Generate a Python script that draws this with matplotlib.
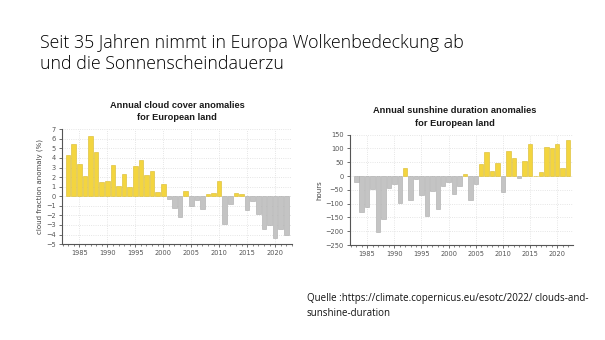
import numpy as np
import matplotlib.pyplot as plt
from matplotlib.ticker import MultipleLocator

years = list(range(1983, 2023))

cloud_anom = [4.3, 5.5, 3.4, 2.15, 6.3, 4.6, 1.45, 1.6, 3.3, 1.07,
              2.3, 0.97, 3.15, 3.8, 2.2, 2.65, 0.48, 1.3, -0.28, -1.18,
              -2.2, 0.52, -1.0, -0.42, -1.3, 0.28, 0.35, 1.6, -2.85, -0.8,
              0.35, 0.2, -1.45, -0.5, -1.87, -3.4, -3.0, -4.35, -3.46, -4.05]

sun_anom = [-20, -130, -112, -48, -203, -156, -43, -28, -98, 29,
            -85, -10, -67, -146, -54, -121, -35, -23, -65, -36,
            6, -85, -28, 44, 86, 18, 46, -57, 90, 64,
            -7, 53, 116, 1, 16, 104, 100, 117, 31, 131]

yellow = "#f3d53f"
yellow_edge = "#d9b92a"
grey = "#c4c4c4"
grey_edge = "#a8a8a8"

fig = plt.figure(figsize=(6.05, 3.4), dpi=100)
fig.patch.set_facecolor("white")


def style_axes(ax, ylabel):
    for s in ["top", "right"]:
        ax.spines[s].set_visible(False)
    for s in ["left", "bottom"]:
        ax.spines[s].set_color("#555555")
        ax.spines[s].set_linewidth(0.8)
    ax.xaxis.set_major_locator(MultipleLocator(5))
    ax.xaxis.set_minor_locator(MultipleLocator(1))
    ax.tick_params(axis="both", which="major", labelsize=4.8, colors="#555555",
                   length=2.5, width=0.6, pad=2)
    ax.tick_params(axis="x", which="minor", length=1.5, width=0.5, colors="#555555")
    ax.grid(True, which="major", color="#dddddd", linestyle=":", linewidth=0.6)
    ax.set_axisbelow(True)
    ax.set_ylabel(ylabel, fontsize=5, color="#444444", labelpad=2)


def bar_colors(vals):
    fc = [yellow if v > 0 else grey for v in vals]
    ec = [yellow_edge if v > 0 else grey_edge for v in vals]
    return fc, ec


# left: cloud cover
ax1 = fig.add_axes([0.1025, 0.282, 0.380, 0.338])
fc, ec = bar_colors(cloud_anom)
ax1.bar(years, cloud_anom, width=0.82, color=fc, edgecolor=ec, linewidth=0.4)
ax1.set_xlim(1981.9, 2023.0)
ax1.set_ylim(-5, 7)
ax1.yaxis.set_major_locator(MultipleLocator(1))
style_axes(ax1, "cloud fraction anomaly (%)")
fig.text(177 / 605, 1 - 105 / 340, "Annual cloud cover anomalies", ha="center", va="center",
         fontsize=6.7, fontweight="bold", color="#1a1a1a", family="Liberation Sans")
fig.text(177 / 605, 1 - 118 / 340, "for European land", ha="center", va="center",
         fontsize=6.7, fontweight="bold", color="#1a1a1a", family="Liberation Sans")

# right: sunshine duration
ax2 = fig.add_axes([0.5785, 0.2794, 0.3686, 0.3244])
fc, ec = bar_colors(sun_anom)
ax2.bar(years, sun_anom, width=0.82, color=fc, edgecolor=ec, linewidth=0.4)
ax2.set_xlim(1981.84, 2022.9)
ax2.set_ylim(-250, 150)
ax2.yaxis.set_major_locator(MultipleLocator(50))
style_axes(ax2, "hours")
fig.text(455 / 605, 1 - 111 / 340, "Annual sunshine duration anomalies", ha="center", va="center",
         fontsize=6.7, fontweight="bold", color="#1a1a1a", family="Liberation Sans")
fig.text(455 / 605, 1 - 124 / 340, "for European land", ha="center", va="center",
         fontsize=6.7, fontweight="bold", color="#1a1a1a", family="Liberation Sans")

# slide title
fig.text(40 / 605, 1 - 43 / 340, "Seit 35 Jahren nimmt in Europa Wolkenbedeckung ab",
         ha="left", va="center", fontsize=12.8, color="#000000", family="Open Sans",
         fontweight="light")
fig.text(40 / 605, 1 - 64 / 340, "und die Sonnenscheindauerzu",
         ha="left", va="center", fontsize=12.8, color="#000000", family="Open Sans",
         fontweight="light")

# source
fig.text(307 / 605, 1 - 298 / 340, "Quelle :https://climate.copernicus.eu/esotc/2022/ clouds-and-",
         ha="left", va="center", fontsize=7.0, color="#111111", family="Open Sans")
fig.text(307 / 605, 1 - 313 / 340, "sunshine-duration",
         ha="left", va="center", fontsize=7.0, color="#111111", family="Open Sans")

fig.savefig("out.png", dpi=100, facecolor="white")
